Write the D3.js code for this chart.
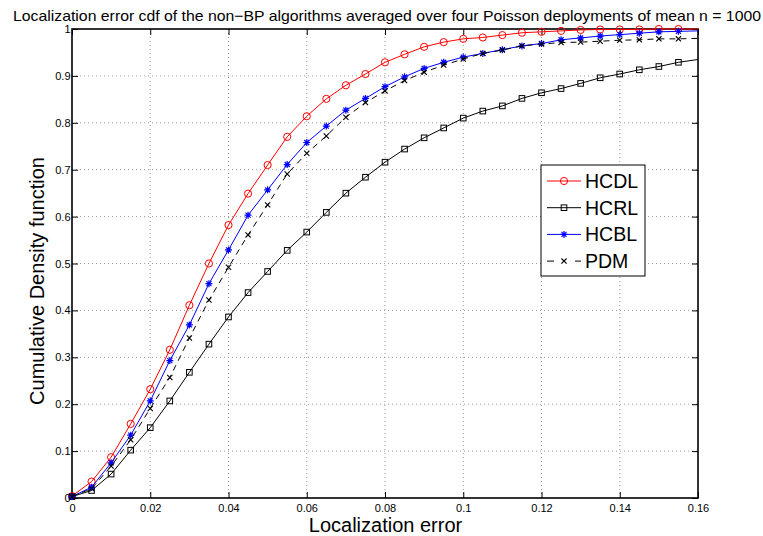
<!DOCTYPE html>
<html>
<head>
<meta charset="utf-8">
<script src="https://cdn.jsdelivr.net/npm/d3@7"></script>
<style>
  body { margin: 0; background: white; }
  text { font-family: "Liberation Sans", Arial, Helvetica, sans-serif; fill: black; }
</style>
</head>
<body>
<div id="chart"></div>
<script>
// data
var errors = [0, 0.005, 0.01, 0.015, 0.02, 0.025, 0.03, 0.035, 0.04, 0.045,
    0.05, 0.055, 0.06, 0.065, 0.07, 0.075, 0.08, 0.085, 0.09, 0.095,
    0.1, 0.105, 0.11, 0.115, 0.12, 0.125, 0.13, 0.135, 0.14, 0.145, 0.15, 0.155, 0.16]

var hcdl = [0.004, 0.035, 0.087, 0.158, 0.232, 0.316, 0.411, 0.500, 0.582, 0.649,
    0.710, 0.770, 0.814, 0.851, 0.880, 0.904, 0.929, 0.946, 0.962, 0.972,
    0.979, 0.982, 0.987, 0.992, 0.994, 0.996, 0.998, 0.999, 0.999, 0.999, 1.000, 1.000, 1.000]
var hcrl = [0.003, 0.016, 0.051, 0.102, 0.150, 0.207, 0.268, 0.328, 0.386, 0.438,
    0.483, 0.528, 0.567, 0.609, 0.650, 0.684, 0.716, 0.744, 0.768, 0.789,
    0.810, 0.825, 0.836, 0.852, 0.864, 0.873, 0.884, 0.896, 0.904, 0.913, 0.920, 0.929, 0.935]
var hcbl = [0.003, 0.023, 0.075, 0.134, 0.207, 0.293, 0.369, 0.457, 0.529, 0.603,
    0.657, 0.711, 0.758, 0.793, 0.827, 0.852, 0.877, 0.898, 0.916, 0.929,
    0.940, 0.948, 0.956, 0.964, 0.969, 0.977, 0.981, 0.985, 0.988, 0.991, 0.994, 0.995, 0.996]
var pdm = [0.003, 0.020, 0.068, 0.124, 0.191, 0.257, 0.341, 0.422, 0.492, 0.561,
    0.625, 0.691, 0.735, 0.772, 0.812, 0.843, 0.868, 0.890, 0.908, 0.923,
    0.936, 0.948, 0.955, 0.964, 0.968, 0.971, 0.972, 0.974, 0.976, 0.977, 0.979, 0.979, 0.980]

var xTicks = [0, 0.02, 0.04, 0.06, 0.08, 0.1, 0.12, 0.14, 0.16]
var yTicks = [0, 0.1, 0.2, 0.3, 0.4, 0.5, 0.6, 0.7, 0.8, 0.9, 1]

var series = [
    { name: 'HCDL', values: hcdl, color: '#ff0000', marker: 'circle', dash: null, legendDash: null },
    { name: 'HCRL', values: hcrl, color: '#000000', marker: 'square', dash: null, legendDash: null },
    { name: 'HCBL', values: hcbl, color: '#0000ff', marker: 'star', dash: null, legendDash: null },
    { name: 'PDM', values: pdm, color: '#000000', marker: 'cross', dash: '6,5', legendDash: '7,21,6' }
]

var width = 763, height = 536
var plot = { left: 72, right: 698, top: 29, bottom: 498 }

var svg = d3.select('#chart')
    .append('svg')
    .attr('width', width)
    .attr('height', height)

var x = d3.scaleLinear().domain([0, 0.16]).range([plot.left, plot.right])
var y = d3.scaleLinear().domain([0, 1]).range([plot.bottom, plot.top])

// dotted grid
svg.append('g')
    .selectAll('line')
    .data(xTicks.slice(1, -1))
    .join('line')
    .attr('x1', d => x(d)).attr('x2', d => x(d))
    .attr('y1', plot.top).attr('y2', plot.bottom)
    .attr('stroke', '#999').attr('stroke-width', 1)
    .attr('stroke-dasharray', '1,3')

svg.append('g')
    .selectAll('line')
    .data(yTicks.slice(1, -1))
    .join('line')
    .attr('x1', plot.left).attr('x2', plot.right)
    .attr('y1', d => y(d)).attr('y2', d => y(d))
    .attr('stroke', '#999').attr('stroke-width', 1)
    .attr('stroke-dasharray', '1,3')

// axes, matlab style: inward ticks on all four sides
var tickLen = 6
svg.append('g')
    .attr('transform', `translate(0,${plot.bottom})`)
    .call(d3.axisBottom(x).tickValues(xTicks).tickSize(-tickLen).tickFormat(d3.format('')))
    .call(g => g.select('.domain').remove())
    .call(g => g.selectAll('text').attr('dy', null).attr('y', 14).style('font-size', '11px'))
svg.append('g')
    .attr('transform', `translate(0,${plot.top})`)
    .call(d3.axisTop(x).tickValues(xTicks).tickSize(-tickLen).tickFormat(''))
    .call(g => g.select('.domain').remove())
svg.append('g')
    .attr('transform', `translate(${plot.left},0)`)
    .call(d3.axisLeft(y).tickValues(yTicks).tickSize(-tickLen).tickFormat(d3.format('')))
    .call(g => g.select('.domain').remove())
    .call(g => g.selectAll('text').attr('x', -1.5).style('font-size', '11px'))
svg.append('g')
    .attr('transform', `translate(${plot.right},0)`)
    .call(d3.axisRight(y).tickValues(yTicks).tickSize(-tickLen).tickFormat(''))
    .call(g => g.select('.domain').remove())

svg.selectAll('.tick line').attr('stroke', 'black')

svg.append('rect')
    .attr('x', plot.left).attr('y', plot.top)
    .attr('width', plot.right - plot.left).attr('height', plot.bottom - plot.top)
    .attr('fill', 'none').attr('stroke', 'black').attr('stroke-width', 1.6)

// curves
svg.append('clipPath').attr('id', 'clip')
    .append('rect')
    .attr('x', plot.left).attr('y', plot.top - 1)
    .attr('width', plot.right - plot.left).attr('height', plot.bottom - plot.top + 1)

var line = d3.line().x((d, i) => x(errors[i])).y(d => y(d))

function drawMarker(g, type, color) {
    if (type == 'circle') {
        g.append('circle').attr('r', 3.6).attr('fill', 'none').attr('stroke', color)
    } else if (type == 'square') {
        g.append('rect').attr('x', -2.8).attr('y', -2.8).attr('width', 5.6).attr('height', 5.6)
            .attr('fill', 'none').attr('stroke', color)
    } else if (type == 'star') {
        g.append('path').attr('d', 'M-3.5,0H3.5M0,-3.5V3.5M-2.5,-2.5L2.5,2.5M-2.5,2.5L2.5,-2.5')
            .attr('stroke', color).attr('stroke-width', 1.2)
    } else {
        g.append('path').attr('d', 'M-2.6,-2.6L2.6,2.6M-2.6,2.6L2.6,-2.6')
            .attr('stroke', color).attr('stroke-width', 1.1)
    }
}

var curves = svg.append('g')
series.forEach(s => {
    curves.append('path')
        .datum(s.values)
        .attr('clip-path', 'url(#clip)')
        .attr('d', line)
        .attr('fill', 'none')
        .attr('stroke', s.color)
        .attr('stroke-width', 1)
        .attr('stroke-dasharray', s.dash)

    var pts = s.values.map((v, i) => [errors[i], v]).filter(p => p[0] < 0.16)
    curves.append('g')
        .selectAll('g')
        .data(pts)
        .join('g')
        .attr('transform', d => `translate(${x(d[0])},${y(d[1])})`)
        .each(function () { drawMarker(d3.select(this), s.marker, s.color) })
})

// legend
var legend = svg.append('g').attr('transform', 'translate(541,165)')
legend.append('rect')
    .attr('width', 104).attr('height', 111)
    .attr('fill', 'white').attr('stroke', 'black').attr('stroke-width', 1)

series.forEach((s, i) => {
    var row = legend.append('g').attr('transform', `translate(0,${16 + i * 26.7})`)
    row.append('line')
        .attr('x1', 6).attr('x2', 40)
        .attr('stroke', s.color).attr('stroke-width', 1)
        .attr('stroke-dasharray', s.legendDash)
    var m = row.append('g').attr('transform', 'translate(23,0)')
    drawMarker(m, s.marker, s.color)
    row.append('text')
        .attr('x', 44).attr('y', 7)
        .style('font-size', '19.5px')
        .text(s.name)
})

// titles
svg.append('text')
    .attr('x', 387).attr('y', 21)
    .attr('text-anchor', 'middle')
    .attr('textLength', 748)
    .attr('lengthAdjust', 'spacingAndGlyphs')
    .style('font-size', '15px')
    .text('Localization error cdf of the non\u2212BP algorithms averaged over four Poisson deployments of mean n = 1000')

svg.append('text')
    .attr('x', 385.5).attr('y', 531.5)
    .attr('text-anchor', 'middle')
    .style('font-size', '20px')
    .text('Localization error')

svg.append('text')
    .attr('transform', 'translate(44,281) rotate(-90)')
    .attr('text-anchor', 'middle')
    .style('font-size', '20px')
    .text('Cumulative Density function')
</script>
</body>
</html>
